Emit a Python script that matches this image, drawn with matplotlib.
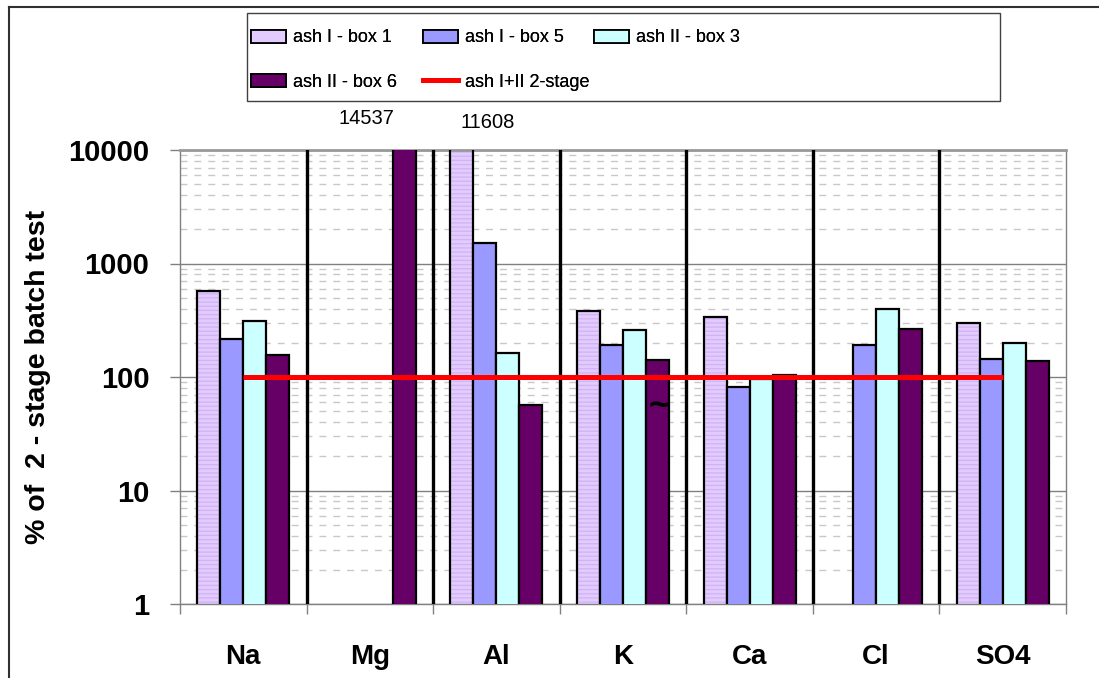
import numpy as np
import matplotlib
matplotlib.use("Agg")
import matplotlib.pyplot as plt
from matplotlib.lines import Line2D
from matplotlib.patches import Patch, Rectangle

categories = ["Na", "Mg", "Al", "K", "Ca", "Cl", "SO4"]
series_names = ["ash I - box 1", "ash I - box 5", "ash II - box 3", "ash II - box 6"]
box1 = [570, np.nan, 11608, 385, 337, np.nan, 301]
box5 = [216, np.nan, 1510, 192, 82, 192, 145]
box3 = [312, np.nan, 164, 257, 97, 396, 200]
box6 = [156, 14537, 57, 140, 104, 264, 138]
ref_name = "ash I+II 2-stage"
ref_line = [100, 100, 100, 100, 100, 100, 100]
y_ticks = [1, 10, 100, 1000, 10000]
y_ticklabels = ["1", "10", "100", "1000", "10000"]
off_scale = [("14537", 1, 3), ("11608", 2, 0)]  # label, category index, series index

colors = ["#E2CCFF", "#9999FF", "#CCFFFF", "#660066"]
stripe = "#D2B4F2"

W, H = 1099, 678
fig = plt.figure(figsize=(W / 100, H / 100), dpi=100)
ax = fig.add_axes([180 / W, 1 - 604 / H, (1066 - 180) / W, (604 - 150) / H])
ax.set_yscale("log")
ax.set_ylim(1, 10000)
ax.set_xlim(-0.5, len(categories) - 0.5)

x = np.arange(len(categories))
bw = 0.1815
data = [box1, box5, box3, box6]
for k, vals in enumerate(data):
    pos = x + (k - 1.5) * bw
    if k == 0:
        ax.bar(pos, vals, bw, color=colors[k], edgecolor=stripe, linewidth=0,
               hatch="----", zorder=2)
        ax.bar(pos, vals, bw, facecolor="none", edgecolor="black", linewidth=1.6, zorder=3)
    else:
        ax.bar(pos, vals, bw, color=colors[k], edgecolor="black", linewidth=1.6, zorder=3)

# category separators
for b in np.arange(0.5, len(categories) - 0.5, 1.0):
    ax.axvline(b, color="black", lw=2.4, zorder=4)

# reference line
ax.plot(x, ref_line, color="#FF0000", lw=3.6, zorder=5, solid_capstyle="butt")

# grid
ax.grid(True, which="major", axis="y", color="#808080", lw=1.0, zorder=0)
ax.grid(True, which="minor", axis="y", color="#C8C8C8", lw=1.0, ls=(0, (5, 5)), zorder=0)
ax.set_axisbelow(True)

# y axis
ax.set_yticks(y_ticks)
ax.set_yticklabels(y_ticklabels, fontsize=21, fontweight="bold", family="Liberation Sans")
ax.yaxis.set_minor_formatter(matplotlib.ticker.NullFormatter())
ax.tick_params(axis="y", which="major", direction="out", length=7, width=1, color="#808080", pad=15)
ax.tick_params(axis="y", which="minor", length=0)

# x axis
ax.set_xticks(x)
ax.set_xticklabels(categories, fontsize=20, fontweight="bold", family="Liberation Sans")
ax.set_xticks(np.arange(-0.5, len(categories), 1.0), minor=True)
ax.tick_params(axis="x", which="major", length=0, pad=29)
ax.tick_params(axis="x", which="minor", direction="out", length=7, width=1, color="#808080")

for s in ["left", "right", "bottom"]:
    ax.spines[s].set_color("#808080")
    ax.spines[s].set_linewidth(1.0)
ax.spines["top"].set_color("#999999")
ax.spines["top"].set_linewidth(2.0)

ax.set_ylabel("% of  2 - stage batch test", fontsize=20.5, fontweight="bold",
              family="Liberation Sans")
ax.yaxis.set_label_coords(-(180 - 51) / (1066 - 180), 0.5)

# off-scale labels
offsets = {1: -0.3, 2: 0.2}
for lab, ci, si in off_scale:
    xp = ci + (si - 1.5) * bw + offsets[ci]
    ax.text(xp, 10 ** (4 + (150 - (118 if ci == 1 else 122)) / 113.5), lab,
            ha="center", va="center", fontsize=14.5, family="Liberation Sans", clip_on=False)

# tilde mark
ax.text(3.29, 56, "~", ha="center", va="center", fontsize=22, fontweight="bold", zorder=6)

# legend frame
fig.add_artist(Rectangle((247 / W, 1 - 101 / H), (1000 - 247) / W, (101 - 13) / H,
                         transform=fig.transFigure, facecolor="white", edgecolor="#404040",
                         lw=1.0, zorder=-1))

# legend: three columns placed at the reference positions
handles = [Patch(facecolor=colors[i], edgecolor="black", linewidth=1.3) for i in range(4)]
handles.append(Line2D([0], [0], color="#FF0000", lw=3.6))
labels = series_names + [ref_name]
columns = [([0, 3], 251, 60), ([1, 4], 423, 60), ([2], 594, 38)]
for idxs, xpx, ypx in columns:
    lg = fig.legend([handles[i] for i in idxs], [labels[i] for i in idxs],
                    loc="center left", bbox_to_anchor=(xpx / W, 1 - ypx / H), ncol=1,
                    prop={"family": "Liberation Sans", "size": 13},
                    frameon=False, handlelength=1.95, handleheight=0.75,
                    handletextpad=0.38, labelspacing=1.5, borderpad=0, borderaxespad=0)
    fig.add_artist(lg)

# outer chart border
fig.add_artist(Line2D([9 / W, 1.0], [1 - 7 / H, 1 - 7 / H], color="#303030", lw=1.5))
fig.add_artist(Line2D([9 / W, 9 / W], [0.0, 1 - 7 / H], color="#303030", lw=1.5))

fig.savefig("out.png", dpi=100)
